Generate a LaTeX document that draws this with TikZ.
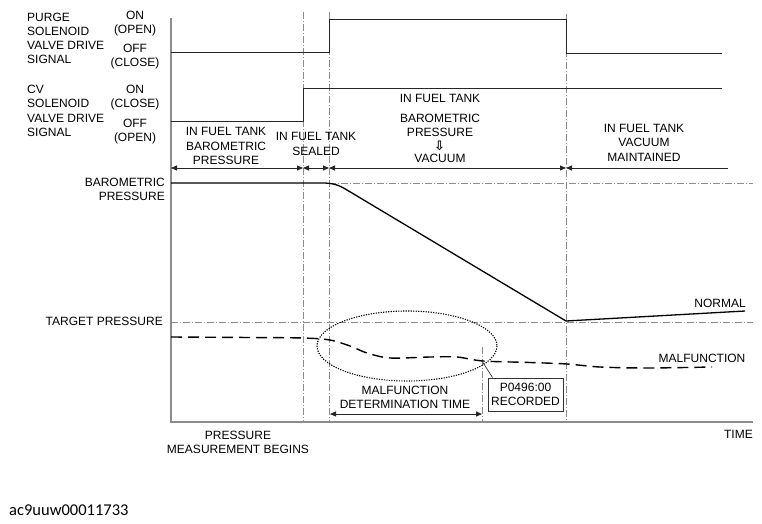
\documentclass[tikz,border=0pt]{standalone}
\usepackage{fontspec}
\setmainfont{Liberation Sans}
\newfontfamily\codefont{Carlito}
\newfontfamily\symfont{DejaVu Sans}
\usetikzlibrary{arrows.meta}

\begin{document}
\begin{tikzpicture}[x=1pt,y=-1pt,>={Triangle[length=6pt,width=5pt]},
	lbl/.style={inner sep=0pt,font=\fontsize{12}{14.3}\selectfont,align=center},
	onelbl/.style={lbl,text height=8.6pt,text depth=0pt},
	axis/.style={draw=black!45,line width=1.6pt},
	sig/.style={draw=black!85,line width=0.9pt},
	guide/.style={draw=black!45,line width=0.6pt,dash pattern=on 7pt off 2pt on 1pt off 2pt},
	span/.style={draw=black!85,line width=0.9pt}]
	\useasboundingbox (0,0) rectangle (762,524);

	\draw[guide] (303,12) -- (303,422);
	\draw[guide] (329,12) -- (329,422);
	\draw[guide] (566,14) -- (566,422);
	\draw[guide] (482,347) -- (482,422);
	\draw[guide] (329,183) -- (753,183);
	\draw[guide] (171,322) -- (753,322);
	\draw[axis] (171,18) -- (171,422) -- (753,422);

	\draw[sig] (171,52) -- (329,52) -- (329,19) -- (566,19) -- (566,53) -- (722,53);
	\draw[sig] (171,121) -- (303,121) -- (303,88) -- (722,88);

	\node[lbl,anchor=north west,align=left] (purge) at (27,12.5) {PURGE\\SOLENOID\\VALVE DRIVE\\SIGNAL};
	\node[lbl,anchor=north] (purgeon) at (135,10.5) {ON\\(OPEN)};
	\node[lbl,anchor=north] (purgeoff) at (135,43.5) {OFF\\(CLOSE)};
	\node[lbl,anchor=north west,align=left] (cv) at (27,85) {CV\\SOLENOID\\VALVE DRIVE\\SIGNAL};
	\node[lbl,anchor=north] (cvon) at (135,85) {ON\\(CLOSE)};
	\node[lbl,anchor=north] (cvoff) at (135,119) {OFF\\(OPEN)};

	\node[lbl,anchor=north] (phase1) at (226,127.5) {IN FUEL TANK\\BAROMETRIC\\PRESSURE};
	\node[lbl,anchor=north] (phase2) at (316,132.5) {IN FUEL TANK\\SEALED};
	\node[onelbl] (phase3) at (440,98.5) {IN FUEL TANK};
	\node[lbl,anchor=north] (phase3b) at (440,114) {BAROMETRIC\\PRESSURE};
	\node[inner sep=0pt,font=\symfont\bfseries\fontsize{13}{13}\selectfont] (phase3c) at (439.5,146) {⇩};
	\node[onelbl] (phase3d) at (440,158.5) {VACUUM};
	\node[lbl,anchor=north] (phase4) at (644,124) {IN FUEL TANK\\VACUUM\\MAINTAINED};

	\coordinate (t0) at (171,168);
	\coordinate (t1) at (303,168);
	\coordinate (t2) at (329,168);
	\coordinate (t3) at (566,168);
	\coordinate (t4) at (728,168);
	\draw[span,<->] (t0) -- (t1);
	\draw[span,<->] (t1) -- (t2);
	\draw[span,<->] (t2) -- (t3);
	\draw[span,<-] (t3) -- (t4);

	\node[lbl,anchor=north east,align=right] (baro) at (165,178) {BAROMETRIC\\PRESSURE};
	\node[onelbl,anchor=east] (target) at (163,321) {TARGET PRESSURE};
	\node[onelbl] (normal) at (720,303) {NORMAL};
	\node[onelbl] (malf) at (702,358) {MALFUNCTION};

	\draw[black,line width=1.3pt] (171,183) -- (322,183) .. controls (333,183) and (339,185) .. (347,190) -- (566,321) -- (745,311);
	\draw[black,line width=1.4pt,dash pattern=on 11pt off 6pt] plot[smooth,tension=0.5] coordinates {(171,337) (250,337.5) (303,338) (330,340) (350,346) (367,353) (390,358) (430,357) (457,357) (483,361) (530,362.5) (567,364) (600,367) (647,368) (712,367)};
	\draw[black,line width=1.1pt,dash pattern=on 1.2pt off 1.3pt] (407,346) ellipse [x radius=90,y radius=35];

	\coordinate (rec) at (482,361);
	\node[lbl,draw=black!80,line width=0.9pt,minimum width=75pt,minimum height=33pt] (box) at (525.5,394.5) {P0496:00\\RECORDED};
	\draw[black!80,line width=0.7pt] (rec) -- ([xshift=5pt]box.north west);

	\node[lbl,anchor=north] (judge) at (405,385.5) {MALFUNCTION\\DETERMINATION TIME};
	\coordinate (d0) at (330,414);
	\coordinate (d1) at (482,414);
	\draw[span,<->] (d0) -- (d1);

	\node[lbl,anchor=north] (start) at (238,430.5) {PRESSURE\\MEASUREMENT BEGINS};
	\node[onelbl,anchor=east] (time) at (753,434) {TIME};

	\node[inner sep=0pt,anchor=west,font=\codefont\fontsize{16.5}{16.5}\selectfont] (code) at (9,510) {ac9uuw00011733};
\end{tikzpicture}
\end{document}
